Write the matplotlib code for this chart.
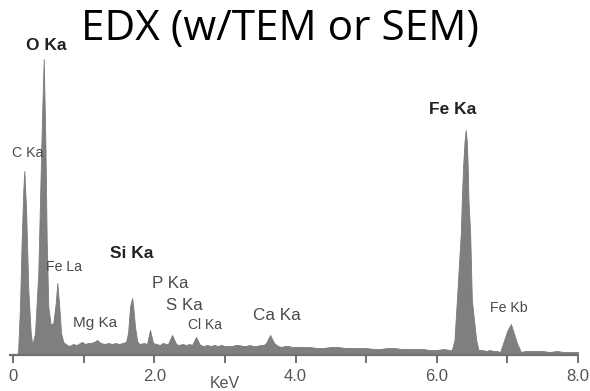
import matplotlib
matplotlib.use("Agg")
import matplotlib.pyplot as plt

# Spectrum (energy in keV, counts in arbitrary units)
energy = [0.057, 0.071, 0.099, 0.123, 0.146, 0.160, 0.184, 0.217, 0.251, 0.273,
          0.312, 0.358, 0.392, 0.415, 0.435, 0.458, 0.477, 0.500, 0.534,
          0.571, 0.605, 0.627, 0.656, 0.680, 0.712, 0.765,
          0.80, 0.85, 0.90, 0.95, 0.98, 1.02, 1.06, 1.10, 1.15, 1.19, 1.24, 1.30,
          1.35, 1.40, 1.45, 1.50, 1.55, 1.60,
          1.629, 1.657, 1.686, 1.700, 1.728, 1.756, 1.771,
          1.80, 1.85, 1.898, 1.94, 1.983, 2.03, 2.08, 2.12, 2.17,
          2.195, 2.252, 2.31, 2.35, 2.40, 2.45, 2.50,
          2.535, 2.592, 2.649, 2.70, 2.75, 2.80, 2.85, 2.90, 2.95, 3.0, 3.05,
          3.1, 3.15, 3.2, 3.25, 3.3, 3.35, 3.4, 3.45, 3.5, 3.55,
          3.584, 3.640, 3.697, 3.75, 3.8, 3.85, 3.9, 3.95, 4.0, 4.1, 4.2, 4.3,
          4.4, 4.5, 4.6, 4.7, 4.8, 4.9, 5.0, 5.1, 5.2, 5.3, 5.4, 5.5, 5.6, 5.7,
          5.8, 5.9, 6.0, 6.1, 6.18,
          6.214, 6.251, 6.285, 6.341, 6.355, 6.374, 6.395, 6.409, 6.424, 6.438,
          6.449, 6.473, 6.497, 6.558, 6.591,
          6.65, 6.7, 6.75, 6.8, 6.85,
          6.898, 6.955, 6.997, 7.050, 7.082, 7.135, 7.191,
          7.25, 7.3, 7.4, 7.5, 7.6, 7.7, 7.8, 7.9, 8.0]
counts = [0, 2, 48, 115, 165, 184, 148, 65, 22, 10,
          22, 82, 182, 248, 296, 215, 115, 48, 30,
          32, 52, 72, 48, 22, 13, 10,
          9, 11, 10, 12, 13, 11, 12, 12, 13, 15, 12, 11,
          12, 11, 12, 11, 12, 13,
          22, 48, 57, 50, 28, 15, 12,
          11, 12, 11, 25, 12, 11, 10, 12, 11,
          11, 20, 11, 10, 11, 10, 11,
          10, 18, 10, 9, 10, 9, 10, 9, 10, 9, 9,
          9, 10, 10, 9, 9, 10, 9, 9, 10, 10,
          12, 20, 12, 9, 8, 9, 9, 8, 8, 8, 8, 7,
          7, 8, 8, 7, 7, 7, 7, 6, 6, 7, 7, 6, 6, 6,
          6, 5, 5, 6, 5,
          5, 15, 55, 122, 155, 190, 215, 225, 215, 190,
          155, 122, 55, 15, 5,
          5, 4, 5, 4, 4,
          3, 15, 24, 31, 24, 12, 3,
          4, 4, 4, 4, 3, 4, 3, 3, 3]

# Peak labels
label_text = ["O Ka", "C Ka", "Fe La", "Si Ka", "P Ka", "S Ka", "Mg Ka",
              "Cl Ka", "Ca Ka", "Fe Ka", "Fe Kb"]
label_energy = [0.467, 0.212, 0.722, 1.686, 2.224, 2.429, 1.161, 2.720, 3.739, 6.225, 7.025]
label_height = [309, 202, 88, 101, 72, 49, 32, 30, 39, 245, 47]
label_bold = [True, False, False, True, False, False, False, False, False, True, False]
label_size = [12.5, 10.2, 10.2, 12.5, 12.2, 12.2, 11, 10, 12.3, 12.5, 10.2]

tick_values = [0, 2, 4, 6, 8]
tick_labels = ["0", "2.0", "4.0", "6.0", "8.0"]
minor_ticks = [1, 3, 5, 7]

W, H = 590, 391
fig = plt.figure(figsize=(W / 100, H / 100), dpi=100)
ax = fig.add_axes([13 / W, (H - 355) / H, (578 - 13) / W, (355 - 59) / H])
ax.set_xlim(0, 8)
ax.set_ylim(0, 296)

ax.fill_between(energy, 0, counts, color="#7f7f7f", lw=0.6, edgecolor="#7a7a7a")

for s in ["top", "left", "right", "bottom"]:
    ax.spines[s].set_visible(False)
ax.plot([-0.057, 8.0], [0, 0], color="#707070", lw=1.6, clip_on=False,
        solid_capstyle="butt")

ax.set_yticks([])
ax.set_xticks(tick_values)
ax.set_xticklabels(tick_labels, fontsize=12, color="#555555",
                   family=["Liberation Sans", "DejaVu Sans"])
ax.set_xticks(minor_ticks, minor=True)
ax.tick_params(axis="x", which="both", direction="out", length=6,
               width=1.4, color="#707070", pad=4)

for t, e, h, b, fs in zip(label_text, label_energy, label_height, label_bold, label_size):
    ax.text(e, h, t, ha="center", va="center", fontsize=fs,
            fontweight="bold" if b else "normal",
            color="#222222" if b else "#4a4a4a",
            family=["Liberation Sans", "DejaVu Sans"], clip_on=False)

ax.text(3.003, -28, "KeV", ha="center", va="center", fontsize=11.5,
        color="#555555", family=["Liberation Sans", "DejaVu Sans"], clip_on=False)

fig.text(280 / W, 1 - 29 / H, "EDX (w/TEM or SEM)", ha="center", va="center",
         fontsize=30.5, color="#000000", family=["Open Sans", "DejaVu Sans"])

fig.savefig("out.png", dpi=100, facecolor="white")
